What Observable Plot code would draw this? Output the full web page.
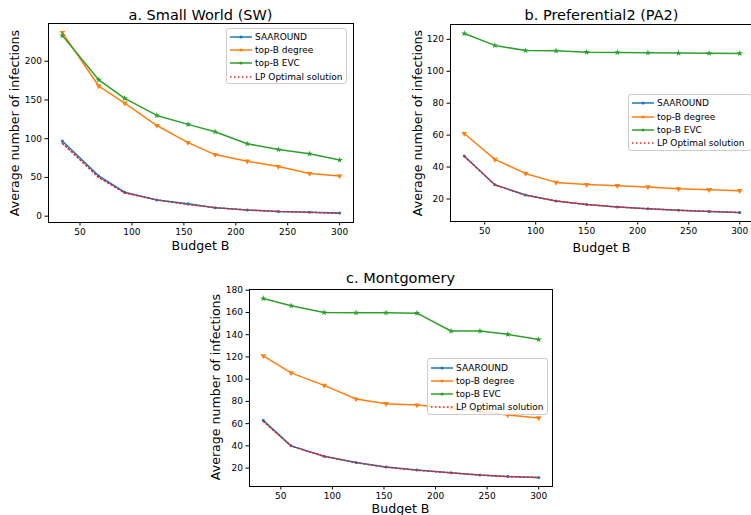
<!DOCTYPE html>
<html>
<head>
<meta charset="utf-8">
<script src="https://cdn.jsdelivr.net/npm/d3@7"></script>
<script src="https://cdn.jsdelivr.net/npm/@observablehq/plot@0.6"></script>
<style>
  html, body { margin: 0; padding: 0; background: #fff; overflow: hidden; }
  #root { position: relative; width: 751px; height: 515px; overflow: hidden; background: #fff;
          font-family: "DejaVu Sans", sans-serif; color: #000; }
  .abs { position: absolute; }
  .lbl { position: absolute; white-space: nowrap; transform: translate(-50%, -50%); }
  .ylbl { position: absolute; white-space: nowrap; transform: translate(-50%, -50%) rotate(-90deg); }
  .legend { position: absolute; box-sizing: border-box; border: 1px solid #cccccc; border-radius: 3px;
            background: rgba(255,255,255,0.8); }
  .legend .row { position: absolute; left: 0; height: 12px; font-size: 9px; line-height: 12px; white-space: nowrap; }
  .legend svg { position: absolute; top: 0; }
</style>
</head>
<body>
<div id="root"></div>
<script>
// ---- data ----
const seriesNames = ["SAAROUND", "top-B degree", "top-B EVC", "LP Optimal solution"];
const seriesColors = ["#1f77b4", "#ff7f0e", "#2ca02c", "#d62728"];
const xTicks = [50, 100, 150, 200, 250, 300];

// a. Small World (SW)
const budgetA = [33, 68, 93, 124, 154, 180, 211, 241, 271, 300];
const saaroundA = [97, 52, 31, 21, 16, 11, 8, 6, 5, 4];
const degreeA = [237, 168, 146, 117, 95, 79.5, 71, 64, 55, 52];
const evcA = [233, 176, 152, 130, 118.5, 109, 93.5, 86, 80.5, 72.5];
const lpA = [94, 50, 30, 21, 15, 11, 8, 6, 5, 3.5];
const yTicksA = [0, 50, 100, 150, 200];

// b. Preferential2 (PA2)
const budgetB = [30, 60, 90, 120, 150, 180, 210, 240, 270, 300];
const saaroundB = [46.9, 28.9, 22.5, 18.8, 16.6, 15, 13.9, 12.9, 12.2, 11.6];
const degreeB = [61, 44.8, 36, 30.4, 29, 28.3, 27.5, 26.4, 25.8, 25.2];
const evcB = [123.7, 116.2, 113, 112.8, 112, 111.8, 111.6, 111.5, 111.3, 111.2];
const lpB = [46.7, 28.8, 22.4, 18.7, 16.5, 15, 13.9, 12.9, 12.2, 11.5];
const yTicksB = [20, 40, 60, 80, 100, 120];

// c. Montgomery
const budgetC = [33, 60, 92, 123, 152, 182, 215, 243, 270, 300];
const saaroundC = [63, 40, 30.7, 25, 20.9, 18.2, 15.8, 13.7, 12.5, 11.6];
const degreeC = [121, 105.7, 94.4, 82.1, 77.9, 76.7, 74, 71, 67.8, 65.1];
const evcC = [172.6, 166, 160, 159.7, 159.7, 159.4, 143.3, 143.3, 140.3, 135.6];
const lpC = [62, 39.8, 30.5, 24.8, 20.8, 18.1, 15.7, 13.6, 12.4, 11.5];
const yTicksC = [20, 40, 60, 80, 100, 120, 140, 160, 180];

const titles = ["a. Small World (SW)", "b. Preferential2 (PA2)", "c. Montgomery"];
const xLabel = "Budget B";
const yLabel = "Average number of infections";

// ---- helpers ----
const root = document.getElementById("root");

function pad(vals, f = 0.05) {
  const lo = d3.min(vals), hi = d3.max(vals), r = hi - lo;
  return [lo - r * f, hi + r * f];
}
function rows(xs, ys) { return xs.map((x, i) => ({x, y: ys[i]})); }

function panel(p) {
  const sa = rows(p.x, p.sa), dg = rows(p.x, p.deg), ev = rows(p.x, p.evc), lp = rows(p.x, p.lp);
  const allY = [...p.sa, ...p.deg, ...p.evc, ...p.lp];
  const chart = Plot.plot({
    width: p.w, height: p.h,
    marginLeft: p.ml, marginRight: p.mr, marginTop: p.mt, marginBottom: p.mb,
    style: {fontFamily: "DejaVu Sans, sans-serif", fontSize: "9px", color: "#000", background: "transparent", overflow: "visible"},
    x: {domain: pad(p.x), label: null},
    y: {domain: pad(allY), label: null},
    marks: [
      Plot.axisX({ticks: xTicks, tickSize: 3.5, tickPadding: 3, label: null, fontSize: 9, stroke: "#000"}),
      Plot.axisY({ticks: p.yTicks, tickSize: 3.5, tickPadding: 3, label: null, fontSize: 9, stroke: "#000"}),
      Plot.line(sa, {x: "x", y: "y", stroke: seriesColors[0], strokeWidth: 1.5}),
      Plot.dot(sa, {x: "x", y: "y", fill: seriesColors[0], r: 1.5}),
      Plot.line(dg, {x: "x", y: "y", stroke: seriesColors[1], strokeWidth: 1.5}),
      Plot.dot(dg, {x: "x", y: "y", fill: seriesColors[1], symbol: "triangle", rotate: 180, r: 2.1}),
      Plot.line(ev, {x: "x", y: "y", stroke: seriesColors[2], strokeWidth: 1.5}),
      Plot.dot(ev, {x: "x", y: "y", fill: seriesColors[2], symbol: "star", r: 2.0}),
      Plot.line(lp, {x: "x", y: "y", stroke: seriesColors[3], strokeWidth: 1.5, strokeDasharray: "1.5,2.5"}),
      Plot.frame({stroke: "#000", strokeWidth: 1})
    ]
  });
  chart.classList.add("abs");
  chart.style.left = p.left + "px";
  chart.style.top = p.top + "px";
  root.appendChild(chart);

  const t = document.createElement("div");
  t.className = "lbl"; t.textContent = p.title;
  t.style.cssText += `left:${p.tx}px;top:${p.ty}px;font-size:14.5px;`;
  root.appendChild(t);

  const xl = document.createElement("div");
  xl.className = "lbl"; xl.textContent = xLabel;
  xl.style.cssText += `left:${p.xlx}px;top:${p.xly}px;font-size:12.6px;`;
  root.appendChild(xl);

  const yl = document.createElement("div");
  yl.className = "ylbl"; yl.textContent = yLabel;
  yl.style.cssText += `left:${p.ylx}px;top:${p.yly}px;font-size:12.6px;`;
  root.appendChild(yl);

  // legend
  const lg = document.createElement("div");
  lg.className = "legend";
  lg.style.left = p.lgx + "px"; lg.style.top = p.lgy + "px";
  lg.style.width = p.lgw + "px"; lg.style.height = p.lgh + "px";
  seriesNames.forEach((name, i) => {
    const row = document.createElement("div");
    row.className = "row";
    row.style.top = (p.lgRow0 - p.lgy - 6 + i * 13.2) + "px";
    row.style.width = "100%";
    const sw = document.createElementNS("http://www.w3.org/2000/svg", "svg");
    sw.setAttribute("width", 24); sw.setAttribute("height", 12);
    sw.style.left = "2px";
    const ln = document.createElementNS("http://www.w3.org/2000/svg", "line");
    ln.setAttribute("x1", 1); ln.setAttribute("x2", 23); ln.setAttribute("y1", 6); ln.setAttribute("y2", 6);
    ln.setAttribute("stroke", seriesColors[i]); ln.setAttribute("stroke-width", 1.5);
    if (i === 3) ln.setAttribute("stroke-dasharray", "1.5,2.5");
    sw.appendChild(ln);
    if (i < 3) {
      const c = document.createElementNS("http://www.w3.org/2000/svg", "circle");
      c.setAttribute("cx", 12); c.setAttribute("cy", 6); c.setAttribute("r", 1.6);
      c.setAttribute("fill", seriesColors[i]);
      sw.appendChild(c);
    }
    row.appendChild(sw);
    const tx = document.createElement("span");
    tx.textContent = name;
    tx.style.position = "absolute"; tx.style.left = "28px";
    row.appendChild(tx);
    lg.appendChild(row);
  });
  root.appendChild(lg);
}

panel({x: budgetA, sa: saaroundA, deg: degreeA, evc: evcA, lp: lpA, yTicks: yTicksA, title: titles[0],
  left: 0, top: 0, w: 370, h: 262, ml: 48, mr: 17, mt: 23, mb: 40,
  tx: 200.5, ty: 15, xlx: 200.5, xly: 245, ylx: 14, yly: 123,
  lgx: 226, lgy: 28, lgw: 121, lgh: 56, lgRow0: 36});

panel({x: budgetB, sa: saaroundB, deg: degreeB, evc: evcB, lp: lpB, yTicks: yTicksB, title: titles[1],
  left: 380, top: 0, w: 380, h: 262, ml: 70, mr: 7, mt: 24, mb: 41,
  tx: 601.5, ty: 15, xlx: 601.5, xly: 246.5, ylx: 416.5, yly: 122.5,
  lgx: 628, lgy: 94, lgw: 124, lgh: 57, lgRow0: 102.3});

panel({x: budgetC, sa: saaroundC, deg: degreeC, evc: evcC, lp: lpC, yTicks: yTicksC, title: titles[2],
  left: 190, top: 260, w: 370, h: 255, ml: 59, mr: 8, mt: 29, mb: 29,
  tx: 400.5, ty: 278.3, xlx: 400.5, xly: 507.5, ylx: 215, yly: 387,
  lgx: 427, lgy: 358, lgw: 121, lgh: 57, lgRow0: 366.7});
</script>
</body>
</html>
